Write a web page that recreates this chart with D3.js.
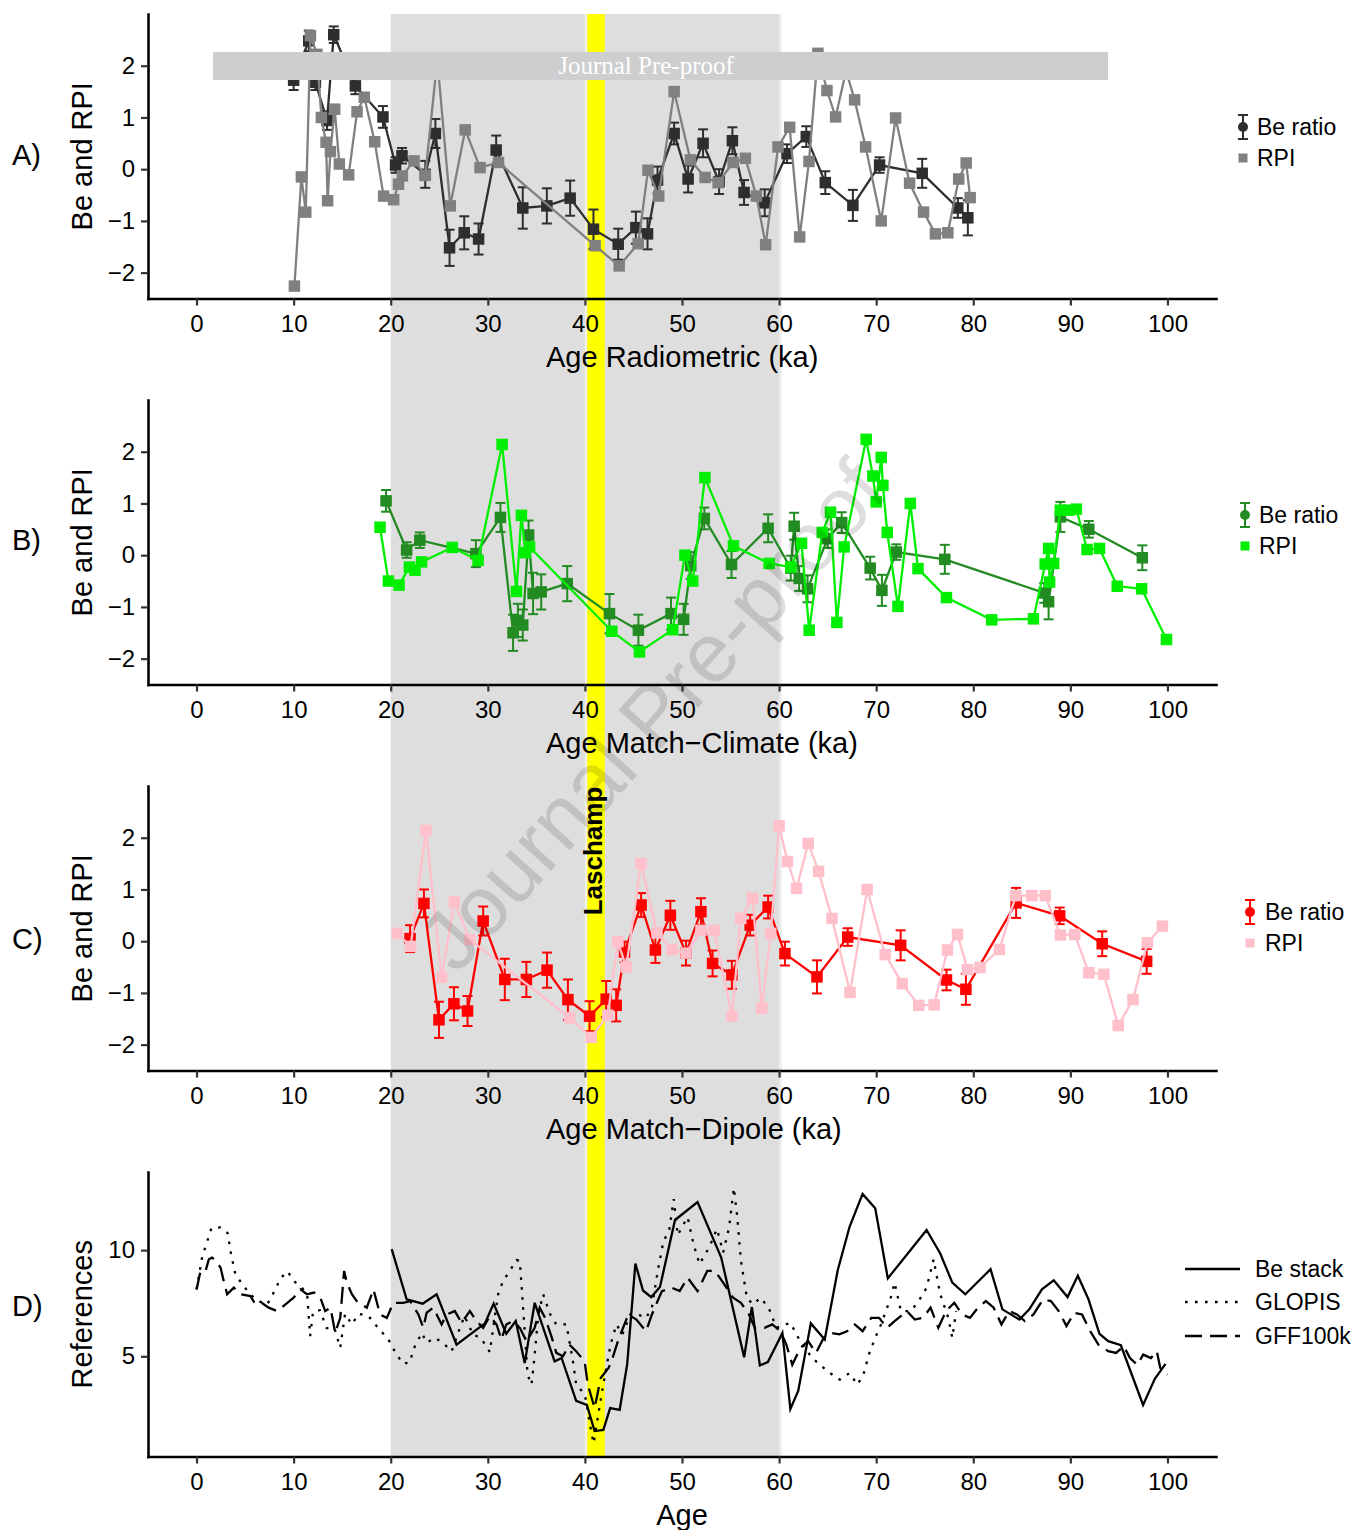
<!DOCTYPE html>
<html>
<head>
<meta charset="utf-8">
<title>Be ratio and RPI age models</title>
<script src="https://cdnjs.cloudflare.com/ajax/libs/d3/7.8.5/d3.min.js"></script>
<style>
    body { margin: 0; background: #fff; }
    #chart svg { display: block; }
</style>
</head>
<body>
<div id="chart"></div>
<script>
// ---- Data (age ka, value[, error]) ----

// A) radiometric age model
const radioBe = [
    [10.0, 1.72, 0.19], [11.56, 2.48, 0.2], [12.24, 1.68, 0.15], [13.44, 0.94, 0.18], [14.13, 2.6, 0.16],
    [16.36, 1.61, 0.16], [19.2, 1.01, 0.21], [20.5, 0.08, 0.15], [21.16, 0.26, 0.15], [23.56, -0.1, 0.26],
    [24.6, 0.69, 0.28], [26.06, -1.52, 0.35], [27.57, -1.23, 0.32], [29.05, -1.35, 0.3], [30.86, 0.37, 0.28],
    [33.6, -0.75, 0.4], [36.08, -0.71, 0.34], [38.48, -0.56, 0.34], [40.88, -1.16, 0.38], [43.43, -1.45, 0.3],
    [45.25, -1.13, 0.31], [46.45, -1.25, 0.3], [47.48, -0.21, 0.26], [49.19, 0.69, 0.21], [50.63, -0.19, 0.26],
    [52.17, 0.5, 0.27], [53.82, -0.24, 0.24], [55.19, 0.55, 0.26], [56.39, -0.45, 0.24], [58.52, -0.65, 0.26],
    [60.82, 0.3, 0.18], [62.8, 0.63, 0.2], [64.76, -0.26, 0.22], [67.6, -0.7, 0.3], [70.35, 0.08, 0.15],
    [74.74, -0.08, 0.28], [78.41, -0.75, 0.19], [79.44, -0.94, 0.34]
];
const radioRpi = [
    [10.08, -2.26], [10.8, -0.15], [11.25, -0.83], [11.73, 2.58], [12.4, 2.22], [12.86, 1.0], [13.34, 0.52],
    [13.5, -0.61], [13.79, 0.34], [14.23, 1.16], [14.71, 0.1], [15.67, -0.11], [16.53, 1.11], [17.28, 1.39],
    [18.35, 0.53], [19.27, -0.52], [20.3, -0.59], [20.8, -0.29], [21.2, -0.13], [22.4, 0.16], [23.56, -0.12],
    [24.8, 2.12], [26.13, -0.71], [27.67, 0.76], [29.2, 0.03], [31.1, 0.13], [41.05, -1.48], [43.53, -1.87],
    [45.49, -1.44], [46.5, -0.02], [47.6, -0.52], [49.19, 1.5], [50.87, 0.18], [52.38, -0.16], [53.72, -0.26],
    [55.26, 0.13], [56.53, 0.21], [57.66, -0.52], [58.62, -1.46], [59.89, 0.43], [61.09, 0.81], [62.12, -1.31],
    [63.08, 0.15], [64.0, 2.24], [64.93, 1.52], [65.82, 1.01], [66.9, 1.9], [67.78, 1.34], [68.91, 0.43],
    [70.52, -1.0], [72.0, 0.99], [73.44, -0.27], [74.88, -0.83], [76.1, -1.25], [77.38, -1.23], [78.5, -0.19],
    [79.27, 0.12], [79.68, -0.55]
];

// B) match-climate age model
const climateBe = [
    [19.52, 1.05, 0.21], [21.64, 0.1, 0.15], [23.0, 0.29, 0.15], [28.77, 0.03, 0.26], [31.3, 0.73, 0.28],
    [32.6, -1.5, 0.35], [33.1, -1.26, 0.32], [33.6, -1.35, 0.3], [34.2, 0.39, 0.28], [34.66, -0.74, 0.4],
    [35.5, -0.71, 0.34], [38.18, -0.55, 0.34], [42.53, -1.13, 0.38], [45.51, -1.45, 0.3], [48.87, -1.13, 0.31],
    [50.17, -1.24, 0.3], [50.9, -0.2, 0.26], [52.3, 0.71, 0.21], [55.1, -0.18, 0.26], [58.87, 0.52, 0.27],
    [61.2, -0.25, 0.24], [61.55, 0.56, 0.26], [62.07, -0.45, 0.24], [62.93, -0.65, 0.26], [65.0, 0.32, 0.18],
    [66.45, 0.63, 0.2], [69.38, -0.25, 0.22], [70.59, -0.68, 0.3], [72.07, 0.06, 0.15], [77.07, -0.08, 0.28],
    [87.31, -0.73, 0.19], [87.76, -0.9, 0.34], [88.97, 0.74, 0.29], [91.9, 0.5, 0.16], [97.41, -0.05, 0.24]
];
const climateRpi = [
    [18.9, 0.54], [19.76, -0.5], [20.86, -0.58], [21.92, -0.23], [22.5, -0.29], [23.18, -0.13], [26.34, 0.15],
    [29.0, -0.1], [31.47, 2.14], [32.95, -0.7], [33.46, 0.77], [33.87, 0.05], [34.3, 0.16], [42.77, -1.47],
    [45.62, -1.87], [49.04, -1.44], [50.3, 0.0], [51.1, -0.5], [52.36, 1.5], [55.3, 0.18], [58.97, -0.16],
    [61.2, -0.23], [62.31, 0.23], [63.1, -1.45], [64.45, 0.44], [65.3, 0.83], [65.95, -1.3], [66.7, 0.16],
    [68.97, 2.24], [69.66, 1.53], [70.0, 1.03], [70.52, 1.89], [70.69, 1.35], [71.14, 0.44], [72.24, -0.99],
    [73.52, 1.0], [74.31, -0.26], [77.24, -0.82], [81.9, -1.25], [86.2, -1.23], [87.41, -0.17], [87.76, 0.13],
    [87.86, -0.52], [88.28, -0.16], [88.97, 0.87], [89.83, 0.87], [90.62, 0.89], [91.72, 0.11], [93.0, 0.13],
    [94.83, -0.6], [97.34, -0.65], [99.9, -1.63]
];

// C) match-dipole age model
const dipoleBe = [
    [21.99, 0.05, 0.26], [23.42, 0.73, 0.27], [24.97, -1.52, 0.35], [26.51, -1.21, 0.32], [27.91, -1.35, 0.29],
    [29.52, 0.39, 0.28], [31.75, -0.74, 0.4], [33.97, -0.74, 0.34], [36.1, -0.56, 0.34], [38.25, -1.13, 0.39],
    [40.48, -1.45, 0.29], [42.19, -1.12, 0.35], [43.22, -1.24, 0.31], [44.08, -0.21, 0.2], [45.79, 0.7, 0.23],
    [47.26, -0.17, 0.25], [48.8, 0.5, 0.28], [50.41, -0.23, 0.24], [51.95, 0.57, 0.26], [53.15, -0.43, 0.25],
    [55.14, -0.65, 0.27], [57.02, 0.31, 0.2], [58.87, 0.66, 0.22], [60.6, -0.24, 0.23], [63.9, -0.69, 0.32],
    [67.07, 0.08, 0.17], [72.52, -0.08, 0.29], [77.24, -0.75, 0.2], [79.24, -0.93, 0.3], [84.41, 0.74, 0.29],
    [88.9, 0.49, 0.16], [93.28, -0.05, 0.24], [97.86, -0.39, 0.24]
];
const dipoleRpi = [
    [20.68, 0.15], [22.05, -0.1], [23.63, 2.14], [25.24, -0.7], [26.54, 0.76], [28.15, 0.03], [38.42, -1.48],
    [40.65, -1.86], [42.36, -1.43], [43.39, -0.01], [44.25, -0.5], [45.79, 1.5], [47.43, 0.16], [48.97, -0.16],
    [50.41, -0.23], [51.95, 0.21], [53.32, 0.21], [55.14, -1.45], [56.06, 0.44], [57.26, 0.83], [58.22, -1.3],
    [59.14, 0.15], [60.0, 2.23], [60.86, 1.54], [61.8, 1.02], [63.0, 1.89], [64.07, 1.35], [65.45, 0.44],
    [67.31, -0.99], [69.07, 1.0], [70.93, -0.26], [72.69, -0.82], [74.38, -1.24], [75.97, -1.23], [77.34, -0.17],
    [78.38, 0.13], [79.41, -0.55], [80.69, -0.51], [82.69, -0.16], [84.38, 0.88], [86.03, 0.88], [87.41, 0.88],
    [88.97, 0.12], [90.45, 0.13], [91.9, -0.61], [93.45, -0.64], [94.93, -1.63], [96.45, -1.13], [97.93, -0.03],
    [99.48, 0.29]
];

// D) reference records
const beStack = [
    [20.1, 10.05], [21.64, 7.68], [23.29, 7.48], [24.73, 7.92], [26.78, 5.55], [29.7, 6.55], [30.6, 7.48],
    [31.9, 6.06], [32.88, 6.66], [33.8, 4.68], [34.83, 7.52], [36.88, 4.76], [37.6, 4.92], [39.1, 2.9],
    [40.2, 2.71], [41.0, 1.48], [41.9, 1.53], [42.6, 2.56], [43.58, 2.48], [44.35, 4.61], [45.2, 9.37],
    [45.98, 8.1], [46.83, 7.79], [47.73, 8.26], [49.28, 11.42], [51.6, 12.26], [54.04, 9.65], [56.4, 4.95],
    [57.2, 7.32], [58.02, 4.57], [58.84, 4.73], [60.34, 6.1], [61.16, 2.52], [61.97, 3.37], [63.27, 6.55],
    [64.7, 5.79], [66.04, 9.05], [67.26, 11.1], [68.6, 12.65], [69.9, 11.97], [71.2, 8.67], [75.19, 10.95],
    [76.6, 9.84], [77.84, 8.47], [79.18, 7.92], [81.78, 9.1], [83.0, 7.21], [84.75, 6.73], [85.77, 7.21],
    [87.07, 8.15], [88.29, 8.58], [89.71, 7.79], [90.77, 8.79], [91.87, 7.68], [93.0, 6.06], [93.9, 5.71],
    [95.2, 5.52], [97.49, 2.71], [98.7, 3.94], [99.8, 4.64]
];
const glopis = [
    [0, 8.15], [0.58, 9.68], [1.54, 11.04], [2.47, 11.07], [3.2, 10.8], [3.56, 9.8], [4.0, 8.86], [4.7, 8.4],
    [5.55, 7.9], [6.4, 7.6], [7.26, 7.43], [8.12, 8.15], [8.63, 8.67], [9.38, 9.0], [10.0, 8.55], [10.86, 8.23],
    [11.4, 7.9], [11.7, 5.95], [12.0, 7.1], [12.7, 7.17], [13.4, 6.33], [14.2, 6.33], [14.8, 5.4], [15.3, 7.0],
    [16.0, 6.5], [16.7, 7.0], [17.7, 6.9], [18.4, 6.5], [19.76, 5.79], [20.6, 5.08], [21.3, 4.64], [22.0, 4.73],
    [22.3, 5.3], [23.2, 6.1], [23.7, 5.64], [24.55, 5.87], [25.4, 5.63], [26.27, 5.23], [27.1, 6.3], [27.6, 6.9],
    [28.5, 6.0], [29.2, 5.9], [29.86, 5.47], [30.2, 5.2], [31.06, 7.92], [31.57, 8.55], [32.26, 9.02],
    [32.95, 9.53], [33.3, 9.5], [33.63, 7.29], [34.1, 4.13], [34.5, 3.66], [34.8, 4.92], [35.2, 6.97],
    [35.7, 7.92], [36.4, 7.0], [37.05, 6.5], [38.1, 6.5], [38.77, 4.76], [39.1, 3.66], [40.0, 3.2],
    [40.65, 1.45], [40.9, 0.9], [41.2, 1.77], [41.83, 3.5], [42.64, 5.55], [43.25, 6.5], [43.86, 6.03],
    [44.68, 6.97], [45.5, 6.97], [46.3, 6.8], [46.9, 7.29], [47.5, 9.02], [48.1, 10.44], [48.67, 10.9],
    [49.15, 12.4], [49.56, 10.7], [50.17, 11.23], [50.58, 11.55], [51.19, 10.28], [51.8, 9.34], [52.8, 10.13],
    [53.6, 11.0], [54.24, 9.89], [54.85, 11.07], [55.34, 12.93], [55.66, 11.7], [56.07, 9.5], [56.68, 7.76],
    [57.3, 7.44], [58.1, 7.76], [58.92, 7.29], [59.73, 6.34], [61.16, 6.58], [62.17, 5.71], [63.4, 4.92],
    [65.0, 4.29], [66.24, 3.9], [67.26, 4.21], [68.07, 3.66], [68.68, 4.13], [69.3, 5.16], [69.9, 5.87],
    [70.5, 6.5], [71.5, 7.76], [71.9, 8.47], [72.55, 7.13], [73.56, 7.13], [74.38, 7.6], [75.19, 8.23],
    [75.92, 9.57], [76.2, 8.86], [76.6, 7.92], [77.43, 6.81], [77.84, 5.87], [78.24, 7.13]
];
const gff100k = [
    [0, 8.15], [0.4, 9.0], [0.92, 9.0], [1.27, 9.57], [1.6, 9.65], [1.95, 9.5], [2.47, 9.18], [2.8, 8.55],
    [3.15, 7.92], [3.84, 8.23], [4.5, 7.92], [5.55, 7.84], [6.06, 7.44], [6.7, 7.52], [7.43, 7.29], [8.3, 7.13],
    [8.97, 7.37], [10.0, 7.76], [10.7, 8.15], [11.37, 7.92], [12.1, 8.0], [12.75, 7.76], [13.25, 7.13],
    [13.8, 7.29], [14.28, 6.1], [14.8, 6.81], [15.2, 9.02], [15.48, 8.47], [16.0, 7.92], [16.5, 7.6],
    [17.0, 7.44], [17.53, 7.29], [18.22, 8.15], [18.9, 6.97], [19.6, 6.81], [20.27, 7.52], [21.3, 7.52],
    [22.0, 7.6], [22.85, 6.97], [23.36, 6.34], [23.7, 7.05], [24.38, 7.29], [25.24, 6.5], [25.75, 6.97],
    [26.6, 7.13], [27.3, 6.58], [28.15, 7.13], [28.84, 6.66], [29.52, 6.34], [30.2, 6.89], [30.9, 6.5],
    [31.4, 5.79], [31.9, 6.5], [32.6, 6.66], [33.3, 6.34], [33.98, 5.71], [34.83, 6.34], [35.34, 7.29],
    [35.9, 6.81], [36.6, 5.87], [37.05, 5.16], [37.74, 5.0], [38.4, 5.55], [39.1, 5.24], [39.97, 4.76],
    [40.3, 3.66], [41.0, 2.56], [41.63, 3.98], [42.44, 4.45], [42.85, 4.92], [43.46, 5.79], [44.47, 6.97],
    [45.3, 6.73], [46.3, 6.18], [46.9, 6.97], [47.93, 8.07], [48.95, 8.23], [49.76, 8.07], [50.58, 8.7],
    [51.6, 8.07], [52.6, 9.02], [53.4, 9.02], [54.24, 8.47], [55.26, 7.76], [56.07, 7.52], [56.9, 6.97],
    [57.5, 6.34], [58.5, 6.34], [59.3, 6.5], [60.14, 6.18], [60.75, 5.55], [61.36, 4.6], [62.2, 5.4],
    [63.0, 5.71], [63.8, 5.16], [64.6, 5.87], [65.4, 6.1], [66.2, 6.03], [67.0, 6.18], [67.8, 6.5],
    [68.6, 6.18], [69.5, 6.81], [70.3, 6.81], [71.1, 6.34], [71.9, 6.66], [73.16, 7.13], [73.98, 6.73],
    [74.8, 6.81], [75.6, 7.29], [76.4, 6.34], [77.2, 7.13], [78.04, 7.52], [78.85, 6.97], [79.66, 6.81],
    [80.48, 7.29], [81.3, 7.6], [82.1, 7.29], [82.9, 6.5], [83.7, 7.13], [84.5, 6.97], [85.3, 6.66],
    [86.2, 6.97], [87.19, 7.68], [88.0, 7.6], [88.8, 7.13], [89.6, 6.42], [90.4, 7.05], [91.2, 6.97],
    [92.05, 6.18], [92.89, 5.55], [93.9, 5.24], [94.7, 5.16], [95.5, 5.47], [96.14, 4.92], [96.9, 4.6],
    [97.5, 5.08], [98.3, 4.92], [98.9, 5.24], [99.26, 4.45], [100, 4.13]
];

// Ticks, domains and highlighted intervals
const ageTicks = [0, 10, 20, 30, 40, 50, 60, 70, 80, 90, 100];
const proxyTicks = [-2, -1, 0, 1, 2];
const referenceTicks = [5, 10];
const ageDomain = [-5, 105];
const proxyDomain = [-2.5, 3.0];
const referenceDomain = [0.28, 13.68];
const shadeBand = [20, 60];
const laschampBand = [40.25, 42.05];

// ---- Layout ----
const FONT = '"Liberation Sans", Arial, Helvetica, sans-serif';
const chartWidth = 1360, chartHeight = 1530;
const plotLeft = 148, plotRight = 1216;
const panelHeight = 284.5;
const panelTops = [14, 400, 786, 1172];
const intFormat = d3.format("d");

class AgePanel {
    constructor(_svg, _config) {
        this.svg = _svg;
        this.config = _config;
        this.initVis();
    }

    initVis() {
        const vis = this;
        const cfg = vis.config;

        vis.top = cfg.top;
        vis.bottom = cfg.top + panelHeight;
        vis.g = vis.svg.append("g").attr("class", "panel");

        // Scales
        vis.xScale = d3.scaleLinear().domain(ageDomain).range([plotLeft, plotRight]);
        vis.yScale = d3.scaleLinear().domain(cfg.yDomain).range([vis.bottom, vis.top]);

        // Axes
        const xAxis = vis.g.append("g")
            .attr("transform", `translate(0,${vis.bottom})`)
            .call(d3.axisBottom(vis.xScale).tickValues(ageTicks).tickFormat(intFormat)
                .tickSize(7).tickSizeOuter(0).tickPadding(9));
        const yAxis = vis.g.append("g")
            .attr("transform", `translate(${plotLeft},0)`)
            .call(d3.axisLeft(vis.yScale).tickValues(cfg.yTicks).tickFormat(intFormat)
                .tickSize(7).tickSizeOuter(0).tickPadding(6));

        [xAxis, yAxis].forEach(ax => {
            ax.attr("font-family", FONT).attr("font-size", 24);
            ax.select(".domain").attr("stroke", "#000").attr("stroke-width", 2.6).attr("stroke-linecap", "square");
            ax.selectAll(".tick line").attr("stroke", "#333").attr("stroke-width", 2.2);
            ax.selectAll(".tick text").attr("fill", "#000");
        });

        // Axis labels
        vis.g.append("text")
            .attr("x", cfg.titleX)
            .attr("y", vis.bottom + 58)
            .attr("dy", "0.35em")
            .attr("text-anchor", cfg.titleAnchor)
            .attr("font-family", FONT)
            .attr("font-size", 29)
            .text(cfg.xTitle);

        vis.g.append("text")
            .attr("transform", `translate(82,${(vis.top + vis.bottom) / 2}) rotate(-90)`)
            .attr("dy", "0.35em")
            .attr("text-anchor", "middle")
            .attr("font-family", FONT)
            .attr("font-size", 29)
            .text(cfg.yTitle);

        // Panel tag
        vis.g.append("text")
            .attr("x", 12)
            .attr("y", cfg.tagY)
            .attr("dy", "0.35em")
            .attr("font-family", FONT)
            .attr("font-size", 29)
            .text(cfg.tag);

        vis.line = d3.line()
            .x(d => vis.xScale(d[0]))
            .y(d => vis.yScale(d[1]));

        vis.updateVis();
    }
}

class ProxyPanel extends AgePanel {
    updateVis() {
        const vis = this;
        const cfg = vis.config;
        const sq = 11.5;

        // Be ratio: line, error bars, squares
        vis.g.append("path")
            .datum(cfg.be)
            .attr("fill", "none")
            .attr("stroke", cfg.beColor)
            .attr("stroke-width", 2.3)
            .attr("d", vis.line);

        const bars = vis.g.append("g")
            .attr("stroke", cfg.beColor)
            .attr("stroke-width", 2)
            .selectAll("g")
            .data(cfg.be)
            .enter().append("g");

        bars.append("line")
            .attr("x1", d => vis.xScale(d[0])).attr("x2", d => vis.xScale(d[0]))
            .attr("y1", d => vis.yScale(d[1] - d[2])).attr("y2", d => vis.yScale(d[1] + d[2]));
        bars.append("line")
            .attr("x1", d => vis.xScale(d[0]) - 5).attr("x2", d => vis.xScale(d[0]) + 5)
            .attr("y1", d => vis.yScale(d[1] - d[2])).attr("y2", d => vis.yScale(d[1] - d[2]));
        bars.append("line")
            .attr("x1", d => vis.xScale(d[0]) - 5).attr("x2", d => vis.xScale(d[0]) + 5)
            .attr("y1", d => vis.yScale(d[1] + d[2])).attr("y2", d => vis.yScale(d[1] + d[2]));

        vis.g.append("g").selectAll("rect")
            .data(cfg.be)
            .enter().append("rect")
            .attr("x", d => vis.xScale(d[0]) - sq / 2)
            .attr("y", d => vis.yScale(d[1]) - sq / 2)
            .attr("width", sq).attr("height", sq)
            .attr("fill", cfg.beColor);

        // RPI: line and squares
        vis.g.append("path")
            .datum(cfg.rpi)
            .attr("fill", "none")
            .attr("stroke", cfg.rpiColor)
            .attr("stroke-width", 2.3)
            .attr("d", vis.line);

        vis.g.append("g").selectAll("rect")
            .data(cfg.rpi)
            .enter().append("rect")
            .attr("x", d => vis.xScale(d[0]) - sq / 2)
            .attr("y", d => vis.yScale(d[1]) - sq / 2)
            .attr("width", sq).attr("height", sq)
            .attr("fill", cfg.rpiColor);

        // Legend
        const lg = vis.g.append("g");
        const kx = cfg.legendX, r0 = cfg.legendRows[0], r1 = cfg.legendRows[1];
        lg.append("line").attr("x1", kx).attr("x2", kx).attr("y1", r0 - 12).attr("y2", r0 + 12)
            .attr("stroke", cfg.beColor).attr("stroke-width", 2);
        [r0 - 12, r0 + 12].forEach(cy => {
            lg.append("line").attr("x1", kx - 5).attr("x2", kx + 5).attr("y1", cy).attr("y2", cy)
                .attr("stroke", cfg.beColor).attr("stroke-width", 2);
        });
        lg.append("circle").attr("cx", kx).attr("cy", r0).attr("r", 5).attr("fill", cfg.beColor);
        lg.append("rect").attr("x", kx - 4.5).attr("y", r1 - 4.5).attr("width", 9).attr("height", 9)
            .attr("fill", cfg.rpiColor);

        lg.selectAll("text")
            .data(["Be ratio", "RPI"])
            .enter().append("text")
            .attr("x", cfg.legendTextX)
            .attr("y", (d, i) => cfg.legendRows[i])
            .attr("dy", "0.35em")
            .attr("font-family", FONT)
            .attr("font-size", 23)
            .text(d => d);
    }
}

class ReferencePanel extends AgePanel {
    updateVis() {
        const vis = this;
        const cfg = vis.config;

        cfg.series.forEach(s => {
            vis.g.append("path")
                .datum(s.values)
                .attr("fill", "none")
                .attr("stroke", "#000")
                .attr("stroke-width", 2.3)
                .attr("stroke-dasharray", s.dash)
                .attr("d", vis.line);
        });

        // Legend
        const lg = vis.g.append("g");
        cfg.series.forEach((s, i) => {
            const ry = cfg.legendRows[i];
            lg.append("line")
                .attr("x1", 1185).attr("x2", 1240).attr("y1", ry).attr("y2", ry)
                .attr("stroke", "#000").attr("stroke-width", 2.3)
                .attr("stroke-dasharray", s.dash);
            lg.append("text")
                .attr("x", 1255).attr("y", ry).attr("dy", "0.35em")
                .attr("font-family", FONT).attr("font-size", 23)
                .text(s.name);
        });
    }
}

// ---- Build chart ----
const svg = d3.select("#chart").append("svg")
    .attr("width", chartWidth)
    .attr("height", chartHeight);

svg.append("rect").attr("width", chartWidth).attr("height", chartHeight).attr("fill", "#fff");

const xAll = d3.scaleLinear().domain(ageDomain).range([plotLeft, plotRight]);
const bandTop = panelTops[0], bandBottom = panelTops[3] + panelHeight;

// Shaded interval and Laschamp excursion
svg.append("rect")
    .attr("x", xAll(shadeBand[0])).attr("y", bandTop)
    .attr("width", xAll(shadeBand[1]) - xAll(shadeBand[0])).attr("height", bandBottom - bandTop)
    .attr("fill", "#dedede");
svg.append("rect")
    .attr("x", xAll(shadeBand[1])).attr("y", bandTop)
    .attr("width", 2.5).attr("height", bandBottom - bandTop)
    .attr("fill", "#eaeaea");
svg.append("rect")
    .attr("x", xAll(laschampBand[0]) - 2.5).attr("y", bandTop)
    .attr("width", 2.5).attr("height", bandBottom - bandTop)
    .attr("fill", "#f2f2e4");
svg.append("rect")
    .attr("x", xAll(laschampBand[0])).attr("y", bandTop)
    .attr("width", xAll(laschampBand[1]) - xAll(laschampBand[0])).attr("height", bandBottom - bandTop)
    .attr("fill", "#ffff00");

const proxyBase = { yDomain: proxyDomain, yTicks: proxyTicks, yTitle: "Be and RPI", titleAnchor: "start", titleX: 546 };

new ProxyPanel(svg, Object.assign({}, proxyBase, {
    top: panelTops[0], tag: "A)", tagY: 155, xTitle: "Age Radiometric (ka)",
    be: radioBe, rpi: radioRpi, beColor: "#2e2e2e", rpiColor: "#808080",
    legendX: 1243, legendTextX: 1257, legendRows: [127, 158]
}));
new ProxyPanel(svg, Object.assign({}, proxyBase, {
    top: panelTops[1], tag: "B)", tagY: 540, xTitle: "Age Match\u2212Climate (ka)",
    be: climateBe, rpi: climateRpi, beColor: "#228b22", rpiColor: "#00ee00",
    legendX: 1245, legendTextX: 1259, legendRows: [515, 546]
}));
new ProxyPanel(svg, Object.assign({}, proxyBase, {
    top: panelTops[2], tag: "C)", tagY: 939, xTitle: "Age Match\u2212Dipole (ka)",
    be: dipoleBe, rpi: dipoleRpi, beColor: "#ff0000", rpiColor: "#ffc0cb",
    legendX: 1250, legendTextX: 1265, legendRows: [912, 943]
}));
new ReferencePanel(svg, {
    top: panelTops[3], tag: "D)", tagY: 1306, xTitle: "Age", titleAnchor: "middle", titleX: 682,
    yDomain: referenceDomain, yTicks: referenceTicks, yTitle: "References",
    series: [
        { name: "Be stack", values: beStack, dash: null },
        { name: "GLOPIS", values: glopis, dash: "2.6,7.4" },
        { name: "GFF100k", values: gff100k, dash: "17,8" }
    ],
    legendRows: [1269, 1302, 1336]
});

// Laschamp label
svg.append("text")
    .attr("transform", `translate(${(xAll(laschampBand[0]) + xAll(laschampBand[1])) / 2 + 6},851) rotate(-90)`)
    .attr("text-anchor", "middle")
    .attr("font-family", FONT)
    .attr("font-weight", "bold")
    .attr("font-size", 26)
    .text("Laschamp");

// Journal banner on panel A
svg.append("rect")
    .attr("x", 213).attr("y", 52).attr("width", 895).attr("height", 28)
    .attr("fill", "#cdcecf");
svg.append("text")
    .attr("x", 646).attr("y", 74)
    .attr("text-anchor", "middle")
    .attr("font-family", '"Liberation Serif", "Times New Roman", serif')
    .attr("font-size", 25)
    .attr("fill", "#fff")
    .text("Journal Pre-proof");

// Diagonal watermark
svg.append("text")
    .attr("transform", "translate(652,715) rotate(-48)")
    .attr("text-anchor", "middle")
    .attr("dy", "0.35em")
    .attr("font-family", FONT)
    .attr("font-size", 84)
    .attr("fill", "#000")
    .attr("fill-opacity", 0.13)
    .text("Journal Pre-proof");
</script>
</body>
</html>
